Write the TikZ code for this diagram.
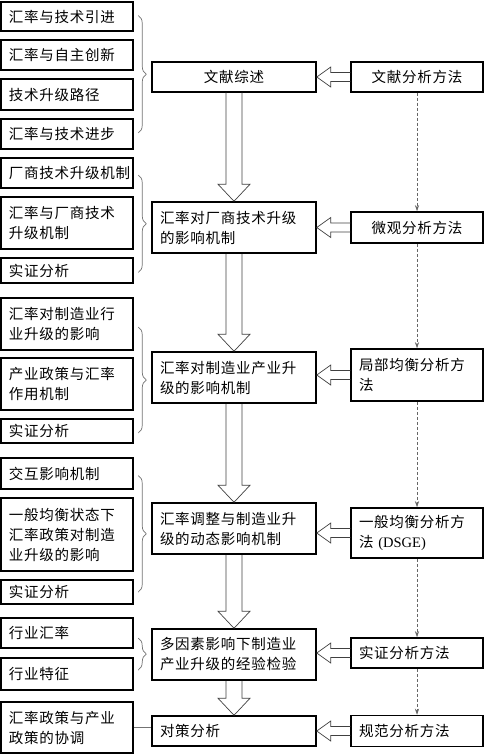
\documentclass[tikz,border=0pt]{standalone}
\usepackage{fontspec}
\newfontfamily\cjk[LetterSpace=5]{Noto Sans CJK SC}
\newfontfamily\lat{Liberation Serif}
\usetikzlibrary{calc,decorations.pathreplacing,arrows.meta}
\tikzset{
  box/.style={draw, line width=1.5pt, inner xsep=8pt, inner ysep=1pt,
    font=\cjk\fontsize{14.5}{20}\selectfont},
  lbox/.style={box, text width=116pt, align=left},
  cbox/.style={box, text width=148pt, align=left},
  rbox/.style={box, text width=116pt, align=left},
  hollow/.style={draw=black!75, line width=0.7pt},
  dasharrow/.style={draw=black!60, line width=0.6pt, dash pattern=on 3pt off 2pt,
    -{Stealth[length=6pt,width=4pt]}},
  thinline/.style={draw=black!55, line width=0.6pt},
  bracestyle/.style={draw=black!55, line width=0.7pt,
    decorate, decoration={brace, amplitude=8pt}}
}
\newcommand\bigdown[2]{%
  \draw[hollow] let \p1=(#1.south), \p2=(#2.north) in
    (\x1-8pt,\y1) -- (\x1-8pt,\y2+17pt) -- (\x1-16pt,\y2+17pt) -- (\x1,\y2)
    -- (\x1+16pt,\y2+17pt) -- (\x1+8pt,\y2+17pt) -- (\x1+8pt,\y1);}
\newcommand\bigleft[2]{%
  \draw[hollow] let \p1=(#1.west), \p2=(#2.east) in
    (\x1,\y1+4.5pt) -- (\x2+14pt,\y1+4.5pt) -- (\x2+14pt,\y1+10pt) -- (\x2,\y1)
    -- (\x2+14pt,\y1-10pt) -- (\x2+14pt,\y1-4.5pt) -- (\x1,\y1-4.5pt);}
\begin{document}
\begin{tikzpicture}[x=1pt,y=-1pt]
\useasboundingbox (0,0) rectangle (484,754);
% left boxes
\node[lbox, minimum height=29pt] (l1) at (67,16.5) {汇率与技术引进};
\node[lbox, minimum height=30pt] (l2) at (67,55) {汇率与自主创新};
\node[lbox, minimum height=31pt] (l3) at (67,94.5) {技术升级路径};
\node[lbox, minimum height=30pt] (l4) at (67,134) {汇率与技术进步};
\node[lbox, minimum height=30pt] (l5) at (67,173) {厂商技术升级机制};
\node[lbox, minimum height=52pt] (l6) at (67,223) {汇率与厂商技术\\升级机制};
\node[lbox, minimum height=25pt] (l7) at (67,270.5) {实证分析};
\node[lbox, minimum height=52pt] (l8) at (67,324) {汇率对制造业行\\业升级的影响};
\node[lbox, minimum height=52pt] (l9) at (67,384) {产业政策与汇率\\作用机制};
\node[lbox, minimum height=24pt] (l10) at (67,431) {实证分析};
\node[lbox, minimum height=31pt] (l11) at (67,473.5) {交互影响机制};
\node[lbox, minimum height=73pt] (l12) at (67,534.5) {一般均衡状态下\\汇率政策对制造\\业升级的影响};
\node[lbox, minimum height=24pt] (l13) at (67,592) {实证分析};
\node[lbox, minimum height=30pt] (l14) at (67,633) {行业汇率};
\node[lbox, minimum height=32pt] (l15) at (67,674) {行业特征};
\node[lbox, minimum height=51pt] (l16) at (67,727.5) {汇率政策与产业\\政策的协调};
% centre boxes
\node[cbox, align=center, minimum height=30pt] (c1) at (234,77) {文献综述};
\node[cbox, minimum height=51pt] (c2) at (234,227.5) {汇率对厂商技术升级\\的影响机制};
\node[cbox, minimum height=51pt] (c3) at (234,377.5) {汇率对制造业产业升\\级的影响机制};
\node[cbox, minimum height=51pt] (c4) at (234,528.5) {汇率调整与制造业升\\级的动态影响机制};
\node[cbox, minimum height=51pt] (c5) at (234,654.5) {多因素影响下制造业\\产业升级的经验检验};
\node[cbox, minimum height=30pt] (c6) at (234,731) {对策分析};
% right boxes
\node[rbox, align=center, minimum height=30pt] (r1) at (417,77) {文献分析方法};
\node[rbox, align=center, minimum height=31pt] (r2) at (417,227.5) {微观分析方法};
\node[rbox, minimum height=52pt] (r3) at (417,375) {局部均衡分析方\\法};
\node[rbox, minimum height=50pt] (r4) at (417,533) {一般均衡分析方\\法{\lat\ (DSGE)}};
\node[rbox, minimum height=30pt] (r5) at (417,653) {实证分析方法};
\node[rbox, minimum height=31pt] (r6) at (417,731) {规范分析方法};
% hollow arrows down
\bigdown{c1}{c2}
\bigdown{c2}{c3}
\bigdown{c3}{c4}
\bigdown{c4}{c5}
\bigdown{c5}{c6}
% hollow arrows left
\bigleft{r1}{c1}
\bigleft{r2}{c2}
\bigleft{r3}{c3}
\bigleft{r4}{c4}
\bigleft{r5}{c5}
\bigleft{r6}{c6}
% dashed arrows
\draw[dasharrow] (r1.south) -- (r2.north);
\draw[dasharrow] (r2.south) -- (r3.north);
\draw[dasharrow] (r3.south) -- (r4.north);
\draw[dasharrow] (r4.south) -- (r5.north);
\draw[dasharrow] (r5.south) -- (r6.north);
% braces
\draw[bracestyle] ([xshift=4.5pt,yshift=1pt]l1.east) -- ([xshift=4.5pt,yshift=1pt]l4.east);
\draw[bracestyle] ([xshift=4.5pt,yshift=-2pt]l5.east) -- ([xshift=4.5pt,yshift=-2pt]l7.east);
\draw[bracestyle] ([xshift=4.5pt,yshift=-3pt]l8.east) -- ([xshift=4.5pt,yshift=-2pt]l10.east);
\draw[bracestyle] ([xshift=4.5pt,yshift=-2pt]l11.east) -- ([xshift=4.5pt]l13.east);
\draw[bracestyle] ([xshift=4.5pt,yshift=-5pt]l14.east) -- ([xshift=4.5pt,yshift=4pt]l15.east);
% plain connector
\draw[thinline] (l16.east) -- (l16.east -| c6.west);
\end{tikzpicture}
\end{document}
